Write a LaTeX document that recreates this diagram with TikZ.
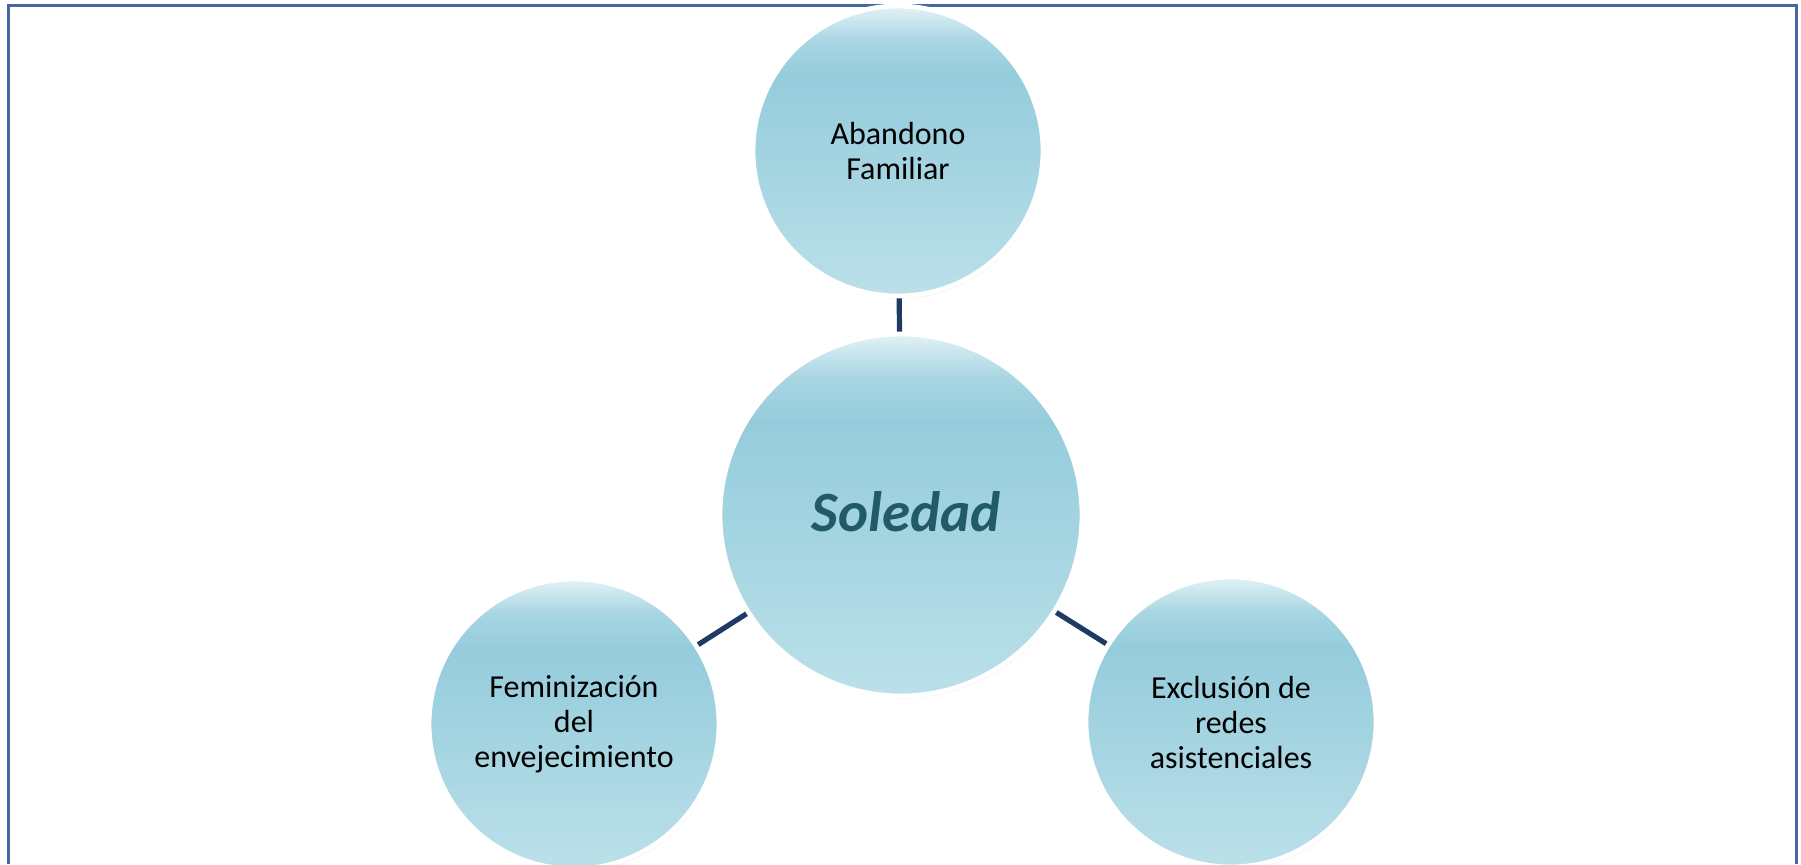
\documentclass[tikz,border=0pt]{standalone}
\usepackage{fontspec}
\setmainfont{Carlito}
\usetikzlibrary{shadows}

\definecolor{frameblue}{HTML}{4468A0}
\definecolor{linknavy}{HTML}{1F3B63}
\definecolor{bubbleTop}{HTML}{E2F2F6}
\definecolor{bubbleDark}{HTML}{95CCDC}
\definecolor{bubbleBot}{HTML}{BBE0E9}
\definecolor{titleteal}{HTML}{215A69}

% path box spans 25bp (bottom) .. 75bp (top)
\pgfdeclareverticalshading{bubbleshade}{100bp}{%
  color(0bp)=(bubbleBot); color(25bp)=(bubbleBot);
  color(40bp)=(bubbleBot!60!bubbleDark);
  color(63bp)=(bubbleDark); color(69bp)=(bubbleDark!75!bubbleTop);
  color(75bp)=(bubbleTop); color(100bp)=(bubbleTop)}

\begin{document}
\begin{tikzpicture}[
    x=0.5pt, y=-0.5pt,
    bubble/.style  ={circle, shading=bubbleshade, draw=white, line width=2.4pt,
                     drop shadow={opacity=0.22, shadow xshift=0.6pt, shadow yshift=-1.2pt},
                     align=center, font=\fontsize{16}{17.5}\selectfont, text=black,
                     inner sep=0pt},
    smallbub/.style={bubble, minimum size=145pt},
    bigbub/.style  ={bubble, minimum size=181pt},
    link/.style    ={draw=linknavy, line width=2.6pt},
    framestroke/.style={draw=frameblue, line width=1.5pt}
]

% ---------- page and frame (bottom side is cut off) ----------
\useasboundingbox (0,0) rectangle (1801,864);
\draw[framestroke] (8,864) -- (8,5) -- (1796,5) -- (1796,864);

% ---------- bubbles ----------
\node[smallbub] (familia) at (898,151) {Abandono\\Familiar};
\node[bigbub]   (soledad) at (901,515) {};
\node[smallbub] (femin)   at (574,724) {Feminización\\del\\envejecimiento};
\node[smallbub] (redes)   at (1231,722) {Exclusión de\\redes\\asistenciales};

% ---------- centre title ----------
\node[font=\fontsize{28.5}{34}\selectfont\bfseries\itshape, text=titleteal]
    (titulo) at (906,512) {Soledad};

% ---------- connectors ----------
\draw[link] (familia) -- (soledad);
\draw[link] (soledad) -- (femin);
\draw[link] (soledad) -- (redes);

\end{tikzpicture}
\end{document}
